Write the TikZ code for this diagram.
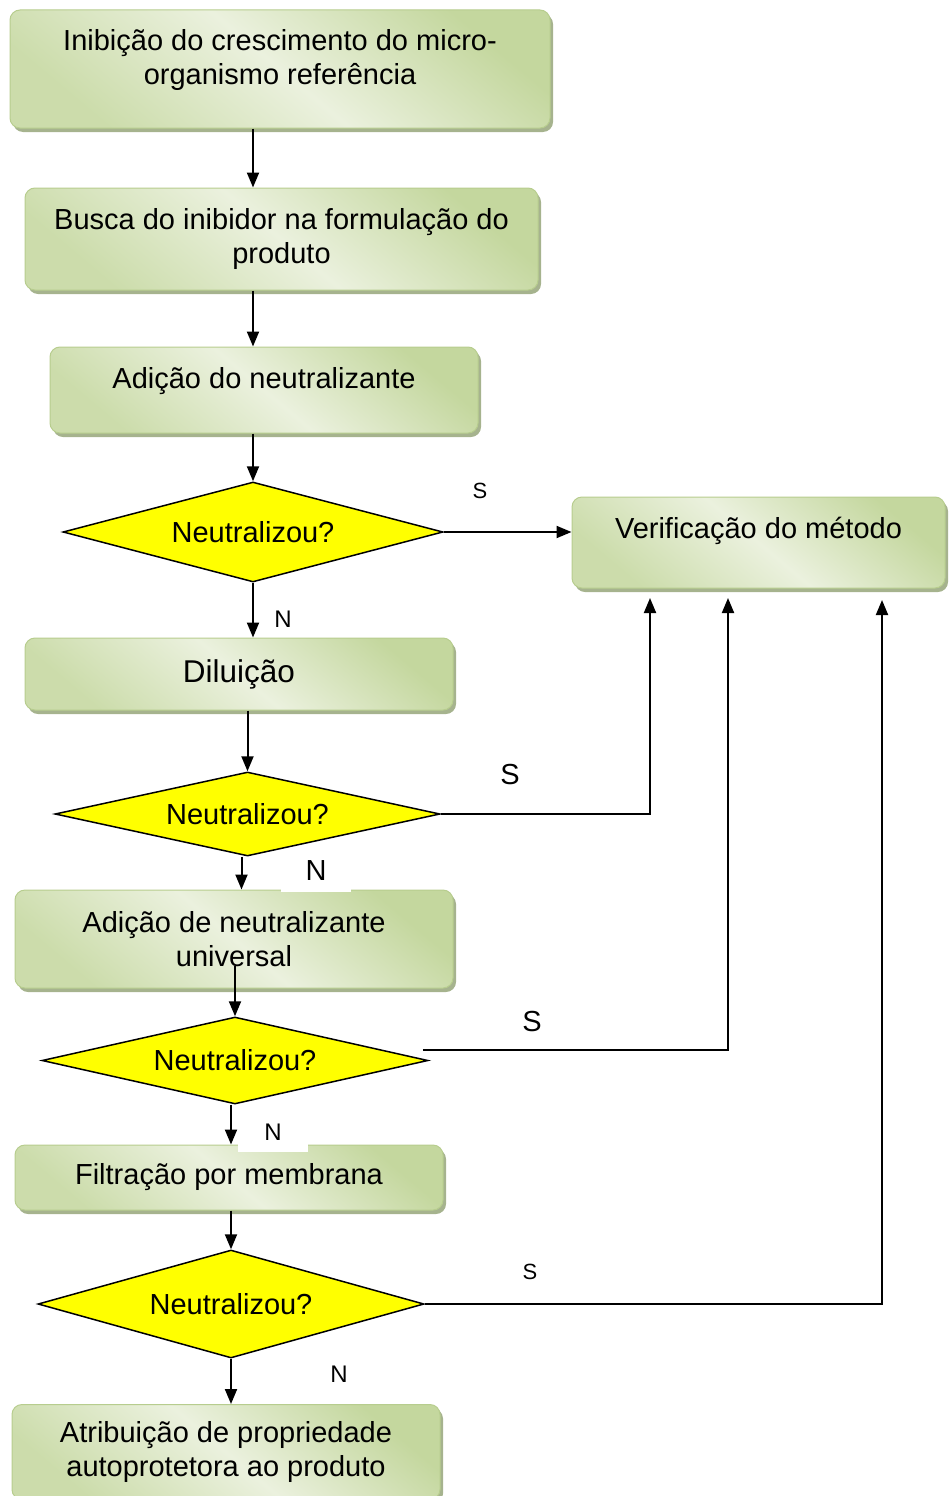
\documentclass[tikz,border=0pt]{standalone}
\usepackage{fontspec}
\setmainfont{Liberation Sans}
\usetikzlibrary{arrows.meta,shapes.geometric,shadows}
\definecolor{boxdark}{HTML}{C4D79E}
\definecolor{boxlight}{HTML}{EBF1DE}
\definecolor{boxedge}{HTML}{B7CD8E}
\definecolor{boxshade}{HTML}{A6B38E}
\definecolor{askyellow}{HTML}{FFFF00}
\tikzset{every node/.append style={font=\fontsize{29}{34}\selectfont}}

\begin{document}
\begin{tikzpicture}[x=1pt,y=-1pt,>={Triangle[length=15pt,width=12pt]},
  stepbox/.style={rectangle,rounded corners=10pt,draw=boxedge,line width=1pt,
    top color=boxdark,bottom color=boxdark!80!boxlight,middle color=boxlight,shading angle=-40,
    drop shadow={shadow xshift=3pt,shadow yshift=-4pt,fill=boxshade,opacity=1},
    align=center,inner sep=0pt},
  decision/.style={diamond,draw=black,line width=1.5pt,fill=askyellow,inner sep=0pt},
  flow/.style={->,line width=2pt},
  ans/.style={inner sep=0pt},
  ansbig/.style={ans,font=\fontsize{29}{34}\selectfont},
  ansmid/.style={ans,font=\fontsize{24}{28}\selectfont},
  anssmall/.style={ans,font=\fontsize{22}{26}\selectfont}]
  \useasboundingbox (0,0) rectangle (948,1496);
  % steps of the method
  \node[stepbox,minimum width=540pt,minimum height=118pt,text depth=24pt] (b1) at (280,69)
    {Inibição do crescimento do micro-\\organismo referência};
  \node[stepbox,minimum width=513pt,minimum height=102pt] (b2) at (281.5,239)
    {Busca do inibidor na formulação do\\produto};
  \node[stepbox,minimum width=428pt,minimum height=86pt,text depth=25pt] (b3) at (264,390)
    {Adição do neutralizante};
  \node[stepbox,minimum width=373pt,minimum height=91pt,text depth=29pt] (bv) at (758.5,542.5)
    {Verificação do método};
  \node[stepbox,minimum width=428pt,minimum height=72pt,font=\fontsize{31.5}{36}\selectfont] (b4) at (239,674)
    {Diluição};
  \node[stepbox,minimum width=438pt,minimum height=98pt] (b5) at (234,939)
    {Adição de neutralizante\\universal};
  \node[stepbox,minimum width=428pt,minimum height=65pt] (b6) at (229,1177.5)
    {Filtração por membrana};
  \node[stepbox,minimum width=428pt,minimum height=95pt] (b7) at (226,1452)
    {Atribuição de propriedade\\autoprotetora ao produto};
  % questions
  \node[decision,aspect=3.8,minimum width=380pt,minimum height=100pt] (d1) at (253,532) {Neutralizou?};
  \node[decision,aspect=4.58,minimum width=385pt,minimum height=84pt] (d2) at (247.5,814) {Neutralizou?};
  \node[decision,aspect=4.44,minimum width=386pt,minimum height=87pt] (d3) at (235,1060.5) {Neutralizou?};
  \node[decision,aspect=3.57,minimum width=386pt,minimum height=108pt] (d4) at (231,1304) {Neutralizou?};
  \coordinate (v1) at (650,598);
  \coordinate (v2) at (728,598);
  \coordinate (v3) at (882,600);
  % connectors
  \draw[flow] ([xshift=-27pt]b1.south) -- ([xshift=-28.5pt]b2.north);
  \draw[flow] ([xshift=-28.5pt]b2.south) -- ([xshift=-11pt]b3.north);
  \draw[flow] ([xshift=-11pt]b3.south) -- (d1.north);
  \draw[flow] (d1.east) -- (d1.east -| bv.west);
  \draw[flow] (d1.south) -- (d1.south |- b4.north);
  \draw[flow] (b4.south -| d2.north) -- (d2.north);
  \draw[flow] (d2.east) -| (v1);
  \draw[flow] ([xshift=-6pt]d2.south) -- ([xshift=-6pt]d2.south |- b5.north);
  \draw[flow] ([yshift=23pt]b5.south -| d3.north) -- (d3.north);
  \draw[flow] ([xshift=-6pt,yshift=11pt]d3.east) -| (v2);
  \draw[flow] ([xshift=-4pt]d3.south) -- ([xshift=-4pt]d3.south |- b6.north);
  \draw[flow] (b6.south -| d4.north) -- (d4.north);
  \draw[flow] (d4.east) -| (v3);
  \draw[flow] (d4.south) -- (d4.south |- b7.north);
  % answers
  \node[anssmall] (s1) at (480,491) {S};
  \node[ansbig] (s2) at (510,775) {S};
  \node[ansbig] (s3) at (532,1022) {S};
  \node[anssmall] (s4) at (530,1272) {S};
  \node[ansmid] (n1) at (283,619) {N};
  \node[ansbig,fill=white,minimum width=70pt,minimum height=42pt] (n2) at (316,871) {N};
  \node[ansmid,fill=white,minimum width=70pt,minimum height=40pt] (n3) at (273,1132) {N};
  \node[ansmid] (n4) at (339,1374) {N};
\end{tikzpicture}
\end{document}
